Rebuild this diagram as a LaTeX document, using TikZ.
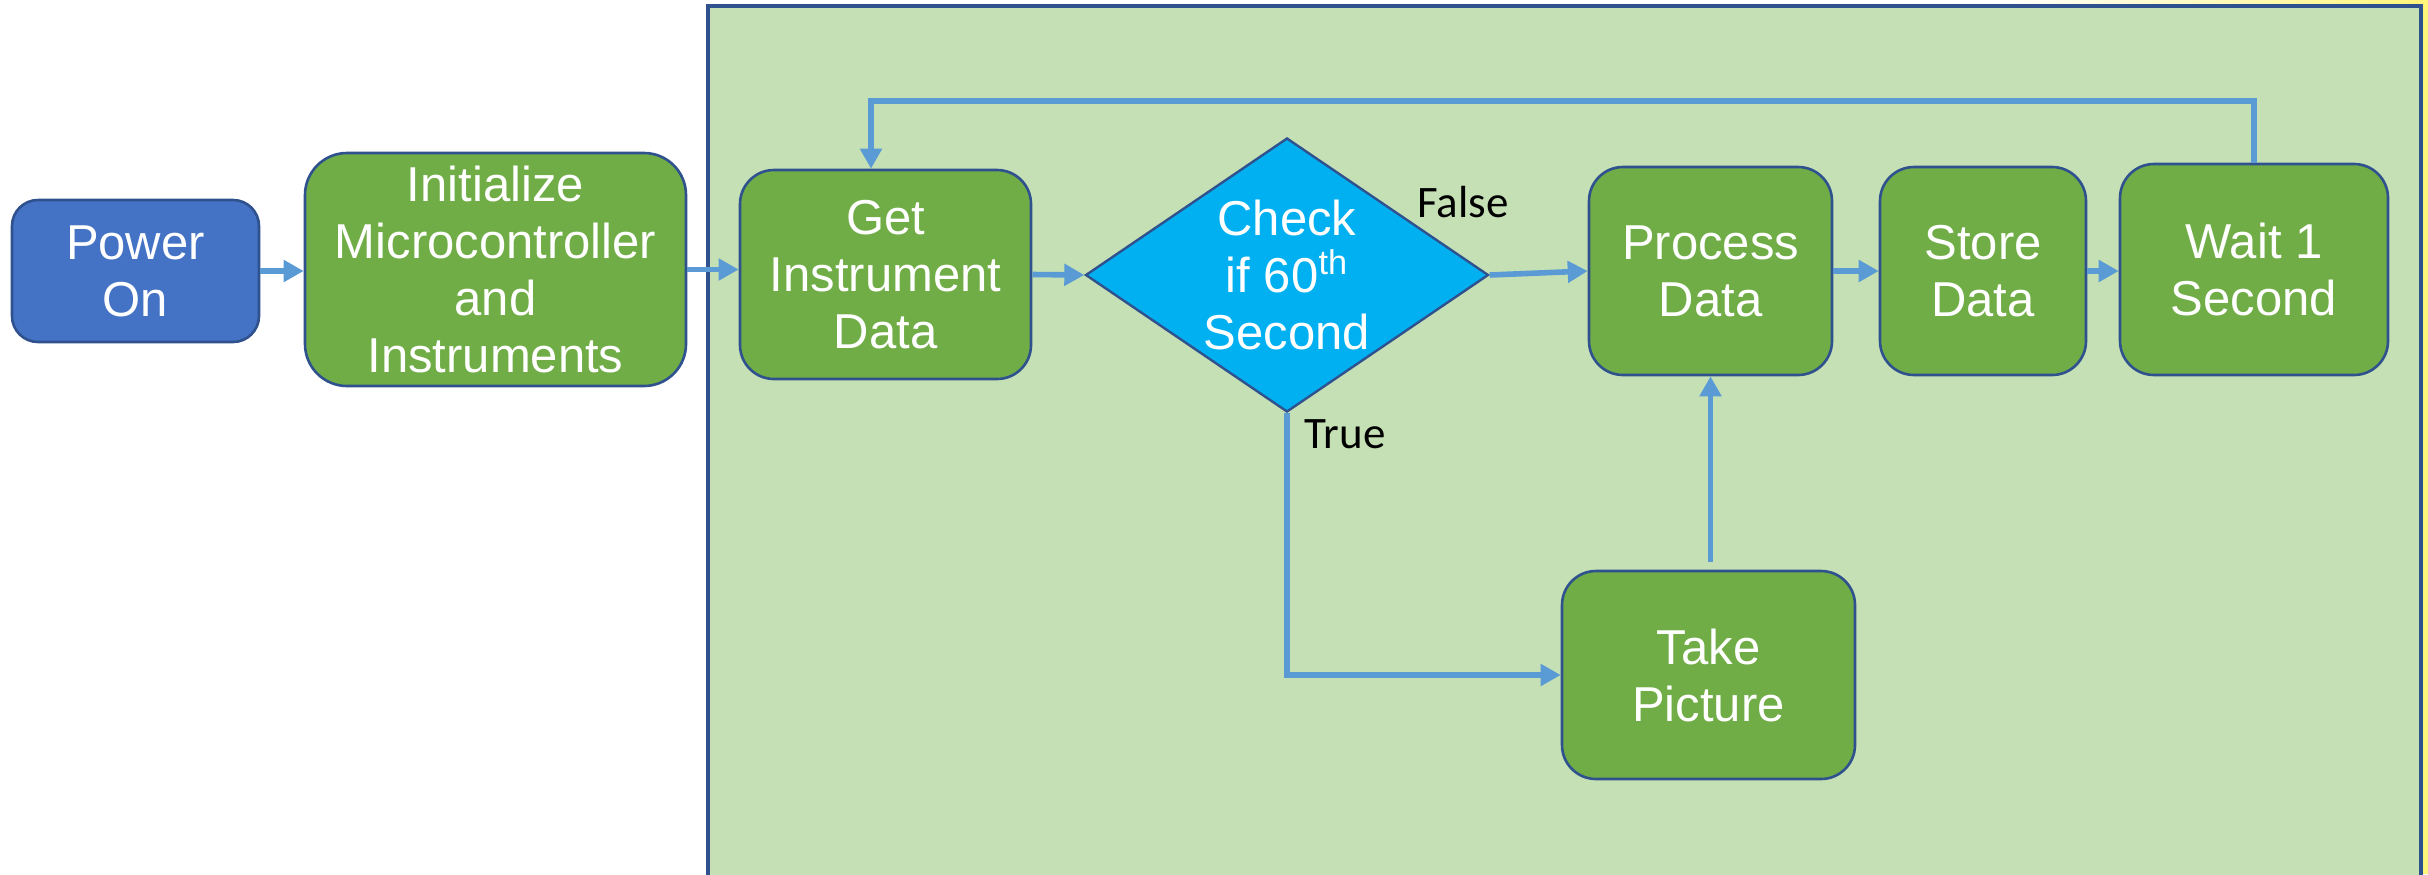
\documentclass[tikz,border=0pt]{standalone}
\usepackage{fontspec}
\setmainfont{Liberation Sans}
\newfontfamily\labelfont{Carlito}
\usetikzlibrary{shapes.geometric,arrows.meta}

\definecolor{stepgreen}{HTML}{70AD47}
\definecolor{startblue}{HTML}{4472C4}
\definecolor{decisioncyan}{HTML}{00B0F0}
\definecolor{outline}{HTML}{2F528F}
\definecolor{panelgreen}{HTML}{C5E0B4}
\definecolor{flowblue}{HTML}{5B9BD5}
\definecolor{edgeyellow}{HTML}{FFF57A}

\begin{document}
\begin{tikzpicture}[x=0.5pt,y=-0.5pt,
  stepbox/.style={draw=outline, line width=1.3pt, fill=stepgreen, rounded corners=17pt,
    text=white, align=center, inner sep=0pt,
    font=\fontsize{24.5pt}{28.5pt}\selectfont},
  decision/.style={shape=diamond, draw=outline, line width=1.2pt, fill=decisioncyan,
    aspect=1.47, inner sep=0pt, text=white, align=center,
    font=\fontsize{24.5pt}{28.5pt}\selectfont},
  branchlabel/.style={font=\labelfont\fontsize{22.5pt}{26pt}\selectfont, text=black, inner sep=0pt},
  flow/.style={draw=flowblue, line width=2.8pt, -{Triangle[length=10pt,width=10.5pt]}}]

\useasboundingbox (0,0) rectangle (2428,874);
\fill[white] (0,0) rectangle (2428,874);

% yellow page edge at the top right and along the right side
\shade[left color=white, right color=edgeyellow] (2000,0) rectangle (2428,6);
\fill[edgeyellow] (2421,0) rectangle (2428,874);

% panel holding the measurement loop
\draw[draw=outline, line width=1.6pt, fill=panelgreen] (708,6) rectangle (2421,900);

% steps
\node[stepbox, fill=startblue, rounded corners=13pt, minimum width=123.5pt, minimum height=71pt]
  (pow) at (135.5,271) {Power\\On};
\node[stepbox, rounded corners=21pt, minimum width=190.5pt, minimum height=116.5pt]
  (init) at (495.5,269.5) {Initialize\\Microcontroller\\and\\Instruments};
\node[stepbox, minimum width=145.5pt, minimum height=104.5pt]
  (get) at (885.5,274.5) {Get\\Instrument\\Data};
\node[decision, minimum width=201.5pt, minimum height=137pt]
  (dia) at (1287,275) {Check\\if 60\textsuperscript{th}\\Second};
\node[stepbox, minimum width=121.5pt, minimum height=104pt]
  (proc) at (1710.5,271) {Process\\Data};
\node[stepbox, minimum width=103pt, minimum height=104pt]
  (store) at (1983,271) {Store\\Data};
\node[stepbox, minimum width=134pt, minimum height=105.5pt]
  (wait) at (2254,269.5) {Wait 1\\Second};
\node[stepbox, minimum width=146.5pt, minimum height=104pt]
  (take) at (1708.5,675) {Take\\Picture};

% branch labels
\node[branchlabel] (false) at (1463,202) {False};
\node[branchlabel] (true) at (1345,434) {True};

% connectors
\coordinate (loopL) at (871,101);
\draw[flow] (pow.east) -- (pow.east -| init.west);
\draw[flow] (init.east) -- (init.east -| get.west);
\draw[flow] (get.east) -- (dia.west);
\draw[flow] (dia.east) -- (proc.west);
\draw[flow] (proc.east) -- (store.west);
\draw[flow] (store.east) -- (store.east -| wait.west);
\draw[flow] (wait.north) |- (loopL) -- (loopL |- get.north);
\draw[flow] (dia.south) |- (take.west);
\draw[flow, shorten <=4pt] (proc.south |- take.north) -- (proc.south);
\end{tikzpicture}
\end{document}
